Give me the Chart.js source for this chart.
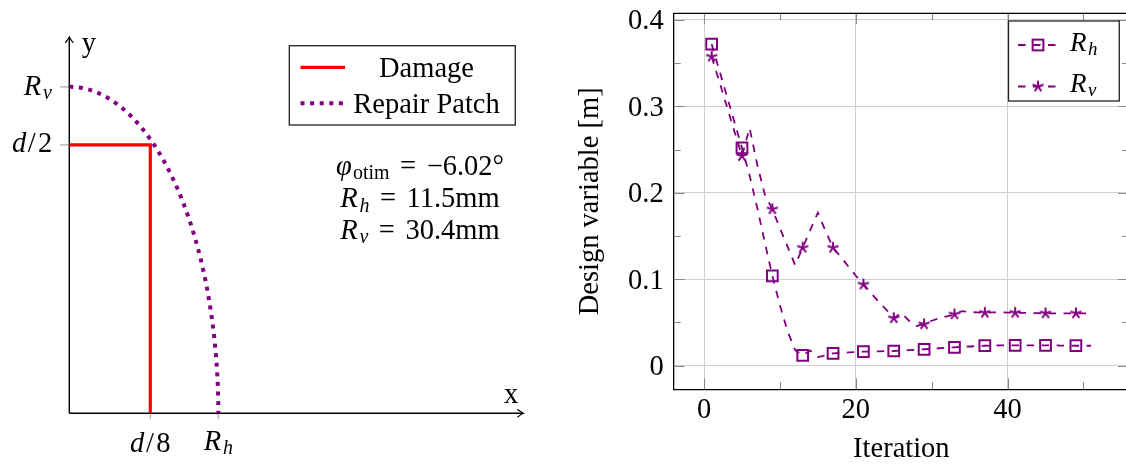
<!DOCTYPE html>
<html>
<head>
<meta charset="utf-8">
<script src="https://cdn.jsdelivr.net/npm/chart.js@4.4.0/dist/chart.umd.min.js"></script>
<style>
  html, body { margin: 0; padding: 0; background: #fff; width: 1126px; height: 465px; overflow: hidden; }
  #patch { position: absolute; left: 0; top: 0; width: 560px; height: 465px; }
  #history { position: absolute; left: 560px; top: 0; width: 580px; height: 465px; }
</style>
</head>
<body>
<canvas id="patch" width="560" height="465"></canvas>
<canvas id="history" width="580" height="465"></canvas>
<script>
// ---------------- values ----------------
// Left panel: damage and elliptical repair patch (mm)
const damageDiameter = 50;
const patchRh = 11.5;
const patchRv = 30.4;
const phiOtim = -6.02;
const damageX = [0, damageDiameter / 8, damageDiameter / 8];
const damageY = [damageDiameter / 2, damageDiameter / 2, 0];
const patchLegend = ['Damage', 'Repair Patch'];

// Right panel: optimisation history of the design variables [m]
const iterations = [1, 2, 3, 4, 5, 6, 7, 8, 9, 10, 11, 12, 13, 14, 15, 16, 17, 18, 19, 20,
  21, 22, 23, 24, 25, 26, 27, 28, 29, 30, 31, 32, 33, 34, 35, 36, 37, 38, 39, 40,
  41, 42, 43, 44, 45, 46, 47, 48, 49, 50, 51];
const rhValues = [0.372, 0.342, 0.312, 0.282, 0.252, 0.220, 0.183, 0.143, 0.104, 0.070,
  0.040, 0.018, 0.012, 0.0175, 0.010, 0.012, 0.0143, 0.0148, 0.0153, 0.0158,
  0.0162, 0.0164, 0.0166, 0.0168, 0.0170, 0.0175, 0.0180, 0.0185, 0.0190, 0.0196,
  0.0202, 0.0207, 0.0213, 0.0218, 0.0222, 0.0227, 0.0231, 0.0233, 0.0234, 0.0235,
  0.0236, 0.0236, 0.0236, 0.0236, 0.0236, 0.0235, 0.0233, 0.0232, 0.0231, 0.0231, 0.0231];
const rvValues = [0.3575, 0.329, 0.300, 0.271, 0.2426, 0.275, 0.233, 0.198, 0.181, 0.159,
  0.138, 0.1165, 0.1365, 0.157, 0.177, 0.156, 0.1365, 0.126, 0.115, 0.104,
  0.094, 0.084, 0.074, 0.065, 0.055, 0.061, 0.052, 0.046, 0.048, 0.052,
  0.055, 0.057, 0.0595, 0.063, 0.062, 0.0617, 0.0613, 0.0616, 0.0617, 0.0615,
  0.0613, 0.0611, 0.0609, 0.0607, 0.0606, 0.0606, 0.0606, 0.0606, 0.0606, 0.0606, 0.0606];
const seriesNames = ['R_h', 'R_v'];
const xTickValues = [0, 20, 40];
const xTickLabels = ['0', '20', '40'];
const xMinorValues = [10, 30, 50];
const yTickValues = [0, 0.1, 0.2, 0.3, 0.4];
const yTickLabels = ['0', '0.1', '0.2', '0.3', '0.4'];
const yMinorValues = [0.05, 0.15, 0.25, 0.35];

// ---------------- styling helpers ----------------
const FAMILY = '"Liberation Serif", "Times New Roman", serif';
const PURPLE = '#800080';
const TXT = 28.5;
const markEvery = 4;

function font(size, italic) {
  return (italic ? 'italic ' : '') + size + 'px ' + FAMILY;
}

// Text runs with italic / subscript parts: [{t, i, s, k}] (k = extra advance in em)
function richWidth(ctx, parts, size) {
  let w = 0;
  for (const p of parts) {
    ctx.font = font(p.s ? size * 0.7 : size, p.i);
    w += ctx.measureText(p.t).width + (p.k || 0) * size;
  }
  return w;
}
function drawRich(ctx, parts, x, baseline, size, align) {
  const w = richWidth(ctx, parts, size);
  let cx = align === 'center' ? x - w / 2 : align === 'right' ? x - w : x;
  ctx.save();
  ctx.fillStyle = '#000';
  ctx.textBaseline = 'alphabetic';
  ctx.textAlign = 'left';
  for (const p of parts) {
    const sz = p.s ? size * 0.7 : size;
    ctx.font = font(sz, p.i);
    ctx.fillText(p.t, cx, baseline + (p.s ? size * 0.15 : 0));
    cx += ctx.measureText(p.t).width + (p.k || 0) * size;
  }
  ctx.restore();
}
function symbolParts(name) {
  const [base, sub] = name.split('_');
  return [{ t: base, i: true, k: 0.06 }, { t: sub, i: true, s: true }];
}
function equalsParts(rhs) {
  return [{ t: ' ', k: 0.12 }, { t: '=', k: 0.12 }, { t: ' ' + rhs }];
}
function fmtSigned(v, digits) {
  return (v < 0 ? '\u2212' : '') + Math.abs(v).toFixed(digits);
}
function fractionParts(num, den) {
  return [{ t: num, i: true, k: 0.06 }, { t: '/', k: 0.08 }, { t: den }];
}

function starMark(color, r, lw) {
  const c = document.createElement('canvas');
  const s = Math.ceil(2 * r + lw + 2);
  c.width = s; c.height = s;
  const g = c.getContext('2d');
  g.strokeStyle = color;
  g.lineWidth = lw;
  g.beginPath();
  for (let k = 0; k < 5; k++) {
    const a = -Math.PI / 2 + k * 2 * Math.PI / 5;
    g.moveTo(s / 2, s / 2);
    g.lineTo(s / 2 + r * Math.cos(a), s / 2 + r * Math.sin(a));
  }
  g.stroke();
  return c;
}
const STAR = starMark(PURPLE, 5.8, 2);

function arrowHead(ctx, x, y, dir) {
  // LaTeX-style "->" tip; dir: 'right' or 'up'
  ctx.save();
  ctx.translate(x, y);
  if (dir === 'up') ctx.rotate(-Math.PI / 2);
  ctx.beginPath();
  ctx.moveTo(-6, -4);
  ctx.quadraticCurveTo(-2, -0.8, 0, 0);
  ctx.quadraticCurveTo(-2, 0.8, -6, 4);
  ctx.lineWidth = 1.2;
  ctx.strokeStyle = '#000';
  ctx.stroke();
  ctx.restore();
}

// ---------------- left panel ----------------
const patchArc = [];
for (let k = 0; k <= 120; k++) {
  const a = (Math.PI / 2) * (1 - k / 120);
  patchArc.push({ x: patchRh * Math.cos(a), y: patchRv * Math.sin(a) });
}

const patchDecor = {
  id: 'patchDecor',
  beforeDatasetsDraw(chart) {
    const { ctx } = chart;
    const xs = chart.scales.x, ys = chart.scales.y;
    const x0 = xs.getPixelForValue(0), y0 = ys.getPixelForValue(0);
    const xEnd = xs.getPixelForValue(xs.max), yEnd = ys.getPixelForValue(ys.max);
    ctx.save();
    // tick marks
    ctx.strokeStyle = '#aaaaaa';
    ctx.lineWidth = 1.2;
    ctx.beginPath();
    for (const v of [damageDiameter / 8, patchRh]) {
      const px = xs.getPixelForValue(v);
      ctx.moveTo(px, y0); ctx.lineTo(px, y0 + 6);
    }
    for (const v of [patchRv, damageDiameter / 2]) {
      const py = ys.getPixelForValue(v);
      ctx.moveTo(x0, py); ctx.lineTo(x0 - 9, py);
    }
    ctx.stroke();
    // axes
    ctx.strokeStyle = '#000';
    ctx.lineWidth = 1.4;
    ctx.beginPath();
    ctx.moveTo(x0, y0); ctx.lineTo(xEnd, y0);
    ctx.moveTo(x0, y0); ctx.lineTo(x0, yEnd);
    ctx.stroke();
    arrowHead(ctx, xEnd + 0.5, y0, 'right');
    arrowHead(ctx, x0, yEnd - 0.5, 'up');
    ctx.restore();

    // axis names
    ctx.save();
    ctx.fillStyle = '#000';
    ctx.font = font(TXT, false);
    ctx.textBaseline = 'alphabetic';
    ctx.fillText('x', xEnd - 19, y0 - 10);
    ctx.fillText('y', x0 + 12.4, yEnd + 15);
    ctx.restore();

    // tick labels
    drawRich(ctx, fractionParts('d', '8'), xs.getPixelForValue(damageDiameter / 8), y0 + 38.4, TXT, 'center');
    drawRich(ctx, symbolParts('R_h'), xs.getPixelForValue(patchRh), y0 + 36.7, TXT, 'center');
    drawRich(ctx, symbolParts('R_v'), x0 - 17.5, ys.getPixelForValue(patchRv) + 8.3, TXT, 'right');
    drawRich(ctx, fractionParts('d', '2'), x0 - 17, ys.getPixelForValue(damageDiameter / 2) + 7.4, TXT, 'right');
  },
  afterDraw(chart) {
    const { ctx } = chart;
    // legend box
    const bx = 289.3, by = 45.7, bw = 226, bh = 79.3;
    ctx.save();
    ctx.fillStyle = '#fff';
    ctx.fillRect(bx, by, bw, bh);
    ctx.strokeStyle = '#222';
    ctx.lineWidth = 1.3;
    ctx.strokeRect(bx, by, bw, bh);
    const ds = chart.data.datasets;
    const rows = [67.3, 103.3];
    ds.forEach((d, k) => {
      ctx.save();
      ctx.strokeStyle = d.borderColor;
      ctx.lineWidth = d.borderWidth;
      ctx.setLineDash(d.borderDash || []);
      ctx.beginPath();
      ctx.moveTo(300.5, rows[k]);
      ctx.lineTo(345, rows[k]);
      ctx.stroke();
      ctx.restore();
      ctx.fillStyle = '#000';
      ctx.font = font(TXT, false);
      ctx.textAlign = 'center';
      ctx.textBaseline = 'alphabetic';
      ctx.fillText(d.label, 426.5, rows[k] + 9.2);
    });
    ctx.restore();

    // optimum values
    const cx = 420;
    drawRich(ctx, [{ t: '\u03C6', i: true, k: 0.04 }, { t: 'otim', s: true },
      ...equalsParts(fmtSigned(phiOtim, 2) + '\u00B0')], cx, 175, TXT, 'center');
    drawRich(ctx, [...symbolParts('R_h'), ...equalsParts(patchRh.toFixed(1) + 'mm')], cx, 207.3, TXT, 'center');
    drawRich(ctx, [...symbolParts('R_v'), ...equalsParts(patchRv.toFixed(1) + 'mm')], cx, 239, TXT, 'center');
  }
};

new Chart(document.getElementById('patch'), {
  type: 'scatter',
  data: {
    datasets: [
      {
        label: patchLegend[0],
        data: damageX.map((x, k) => ({ x, y: damageY[k] })),
        showLine: true,
        borderColor: '#ff0000',
        borderWidth: 3.2,
        borderJoinStyle: 'miter',
        pointRadius: 0
      },
      {
        label: patchLegend[1],
        data: patchArc,
        showLine: true,
        borderColor: PURPLE,
        borderWidth: 4,
        borderDash: [4, 5.6],
        borderCapStyle: 'butt',
        pointRadius: 0
      }
    ]
  },
  options: {
    responsive: false,
    animation: false,
    events: [],
    layout: { padding: { left: 69.3, right: 37.1, top: 37.4, bottom: 51.7 } },
    scales: {
      x: { type: 'linear', min: 0, max: 35, display: false },
      y: { type: 'linear', min: 0, max: 35, display: false }
    },
    plugins: { legend: { display: false }, tooltip: { enabled: false } }
  },
  plugins: [patchDecor]
});

// ---------------- right panel ----------------
const frameDecor = {
  id: 'frameDecor',
  beforeDatasetsDraw(chart) {
    const { ctx, chartArea: a } = chart;
    const xs = chart.scales.x, ys = chart.scales.y;
    ctx.save();
    ctx.strokeStyle = '#8c8c8c';
    ctx.lineWidth = 1.1;
    ctx.beginPath();
    const vt = (vals, len) => vals.forEach(v => {
      const px = Math.round(xs.getPixelForValue(v)) + 0.5;
      ctx.moveTo(px, a.bottom); ctx.lineTo(px, a.bottom - len);
      ctx.moveTo(px, a.top); ctx.lineTo(px, a.top + len);
    });
    const ht = (vals, len) => vals.forEach(v => {
      const py = Math.round(ys.getPixelForValue(v)) + 0.5;
      ctx.moveTo(a.left, py); ctx.lineTo(a.left + len, py);
      ctx.moveTo(a.right, py); ctx.lineTo(a.right - len, py);
    });
    vt(xTickValues, 11); vt(xMinorValues, 7);
    ht(yTickValues, 11); ht(yMinorValues, 7);
    ctx.stroke();
    // upper and right frame
    ctx.strokeStyle = '#000';
    ctx.lineWidth = 1.3;
    ctx.beginPath();
    ctx.moveTo(a.left, a.top); ctx.lineTo(a.right, a.top); ctx.lineTo(a.right, a.bottom);
    ctx.stroke();
    ctx.restore();
  },
  afterDraw(chart) {
    const { ctx } = chart;
    const bx = 448.5, by = 21, bw = 110.8, bh = 80;
    ctx.save();
    ctx.fillStyle = '#fff';
    ctx.fillRect(bx, by, bw, bh);
    ctx.strokeStyle = '#222';
    ctx.lineWidth = 1.3;
    ctx.strokeRect(bx, by, bw, bh);
    const rows = [45, 86.5];
    chart.data.datasets.forEach((d, k) => {
      const y = rows[k];
      ctx.save();
      ctx.strokeStyle = d.borderColor;
      ctx.lineWidth = d.borderWidth;
      ctx.setLineDash(d.borderDash);
      ctx.beginPath();
      ctx.moveTo(458, y); ctx.lineTo(497, y);
      ctx.stroke();
      ctx.restore();
      if (d.pointStyle === 'rect') {
        const s = 7.6 * Math.SQRT1_2;
        ctx.strokeStyle = d.pointBorderColor;
        ctx.lineWidth = d.pointBorderWidth;
        ctx.strokeRect(478 - s, y - s, 2 * s, 2 * s);
      } else {
        ctx.drawImage(d.pointStyle, 478 - d.pointStyle.width / 2, y - d.pointStyle.height / 2);
      }
      drawRich(ctx, symbolParts(d.label), 510, y + 5.5, 27, 'left');
    });
    ctx.restore();
  }
};

const markRadius = r => ctx => (ctx.dataIndex % markEvery === 0 ? r : 0);

new Chart(document.getElementById('history'), {
  type: 'line',
  data: {
    datasets: [
      {
        label: seriesNames[0],
        data: iterations.map((it, k) => ({ x: it, y: rhValues[k] })),
        borderColor: PURPLE,
        borderWidth: 1.8,
        borderDash: [7.5, 7.5],
        fill: false,
        tension: 0,
        pointStyle: 'rect',
        pointRadius: markRadius(7.6),
        pointBorderColor: PURPLE,
        pointBackgroundColor: 'rgba(0,0,0,0)',
        pointBorderWidth: 2
      },
      {
        label: seriesNames[1],
        data: iterations.map((it, k) => ({ x: it, y: rvValues[k] })),
        borderColor: PURPLE,
        borderWidth: 1.8,
        borderDash: [7.5, 7.5],
        fill: false,
        tension: 0,
        pointStyle: STAR,
        pointRadius: markRadius(5.8),
        pointBorderColor: PURPLE,
        pointBackgroundColor: PURPLE,
        pointBorderWidth: 2
      }
    ]
  },
  options: {
    responsive: false,
    animation: false,
    events: [],
    layout: { padding: { left: 0, right: 11, top: 13.3, bottom: 0 } },
    scales: {
      x: {
        type: 'linear',
        min: -4,
        max: 56,
        afterBuildTicks: s => { s.ticks = xTickValues.map(v => ({ value: v })); },
        afterFit: s => { s.height = 75.7; s.paddingLeft = 0; s.paddingRight = 0; },
        grid: { color: '#cfcfcf', lineWidth: 1, drawTicks: false },
        border: { display: true, color: '#000', width: 1.3 },
        ticks: {
          padding: 4.6, color: '#000', maxRotation: 0, autoSkip: false,
          font: { family: FAMILY, size: TXT },
          callback: (v, i) => xTickLabels[i]
        },
        title: {
          display: true, text: 'Iteration', color: '#000',
          font: { family: FAMILY, size: TXT, lineHeight: 1 },
          padding: { top: 0, bottom: 1.4 }
        }
      },
      y: {
        type: 'linear',
        min: -0.0273,
        max: 0.4076,
        afterBuildTicks: s => { s.ticks = yTickValues.map(v => ({ value: v })); },
        afterFit: s => { s.width = 113.7; s.paddingTop = 0; s.paddingBottom = 0; },
        grid: { color: '#cfcfcf', lineWidth: 1, drawTicks: false },
        border: { display: true, color: '#000', width: 1.3 },
        ticks: {
          padding: 10, labelOffset: 1.8, color: '#000', autoSkip: false,
          font: { family: FAMILY, size: TXT },
          callback: (v, i) => yTickLabels[i]
        },
        title: {
          display: true, text: 'Design variable [m]', color: '#000',
          font: { family: FAMILY, size: TXT, lineHeight: 1 },
          padding: { top: 16, bottom: 0 }
        }
      }
    },
    plugins: { legend: { display: false }, tooltip: { enabled: false } }
  },
  plugins: [frameDecor]
});
</script>
</body>
</html>
